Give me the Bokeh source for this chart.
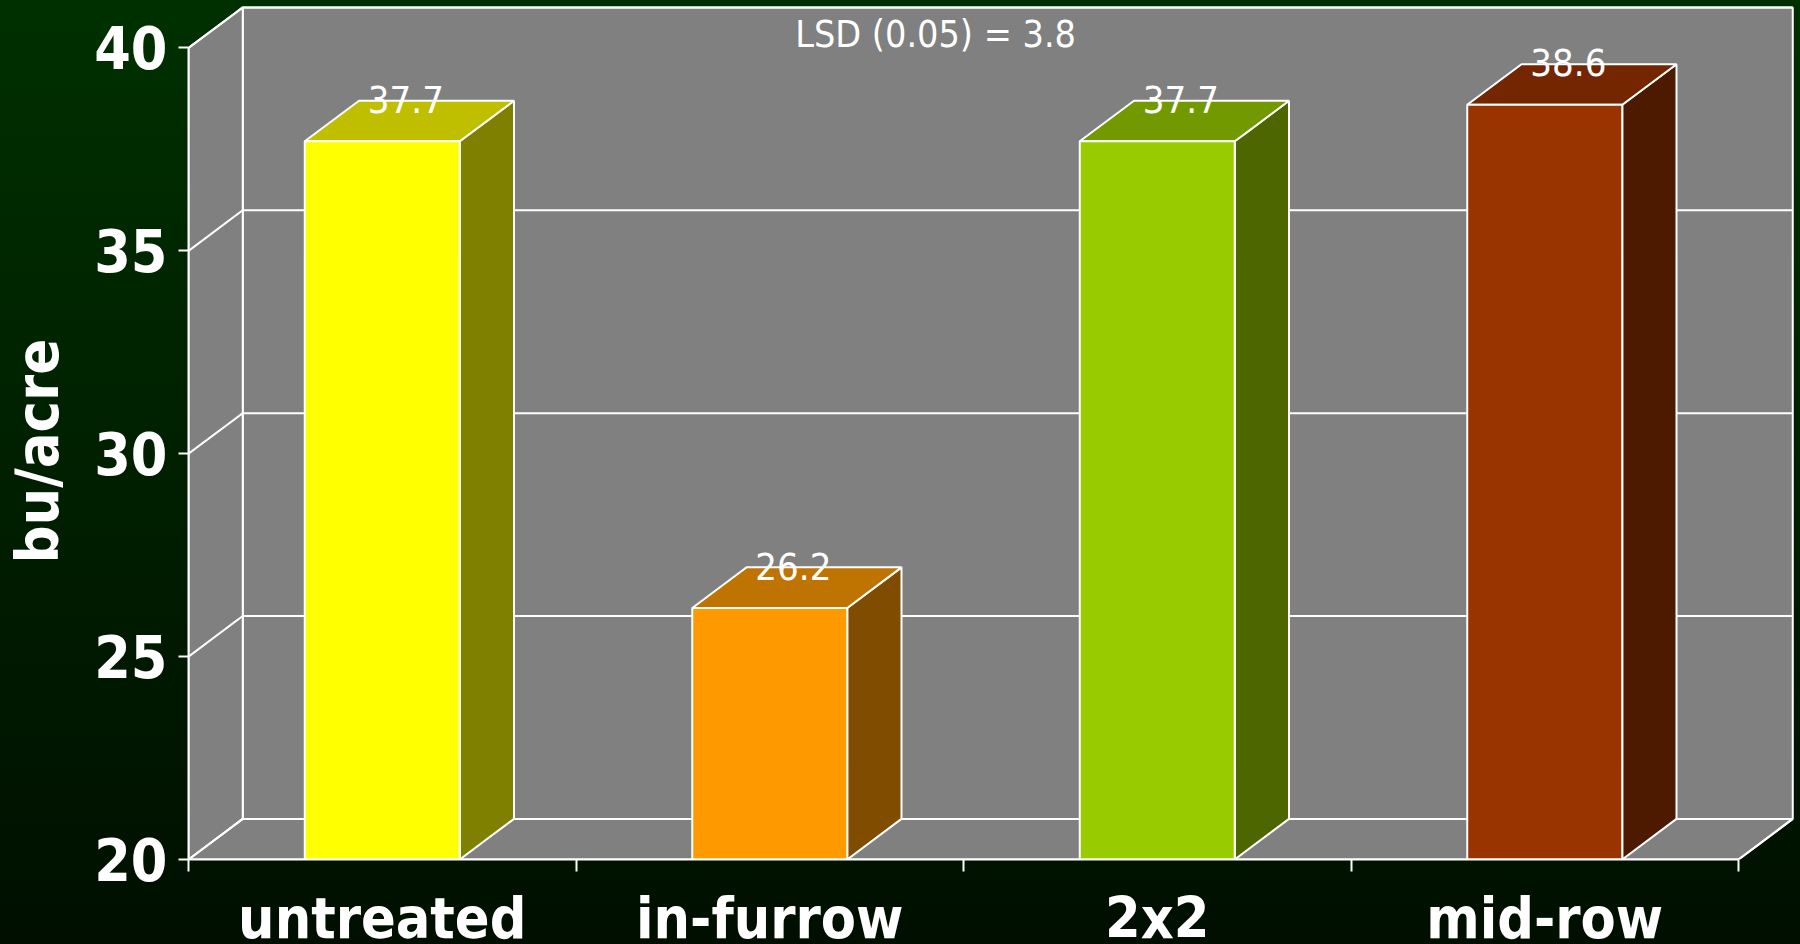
from bokeh.core.properties import value
from bokeh.embed import file_html
from bokeh.models import FixedTicker, Title
from bokeh.plotting import figure
from bokeh.resources import INLINE

categories = ["untreated", "in-furrow", "2x2", "mid-row"]
yields = [37.7, 26.2, 37.7, 38.6]
front_colors = ["#FFFF00", "#FF9900", "#99CC00", "#993300"]
top_colors = ["#BFBF00", "#BF7300", "#739900", "#732600"]
side_colors = ["#808000", "#804D00", "#4D6600", "#4D1A00"]
y_ticks = [20, 25, 30, 35, 40]
note = "LSD (0.05) = 3.8"
y_title = "bu/acre"

FONT = "DejaVu Sans Condensed"
WHITE = "#FFFFFF"
BASE = y_ticks[0]
TOP = y_ticks[-1]
N = len(categories)
DX = 0.14   # depth of the 3-D box along x
DY = 1.0    # depth of the 3-D box along y
BAR = 0.4
centers = [i + 0.5 for i in range(N)]

p = figure(
    width=1821, height=954,
    x_range=(0, 4.16), y_range=(20, 41.17),
    output_backend="svg", toolbar_location=None,
    min_border_left=209, min_border_right=0, min_border_top=0, min_border_bottom=95,
    outline_line_color=None,
    background_fill_color=None, border_fill_color=None,
)
p.styles = {
    "position": "fixed", "left": "-21px", "top": "0",
    "background": "linear-gradient(180deg, #003000 0%, #000F00 98.9%)",
}
p.grid.visible = False

# walls and floor
p.patches(
    xs=[[DX, N + DX, N + DX, DX], [0, DX, DX, 0], [0, N, N + DX, DX]],
    ys=[[BASE + DY, BASE + DY, TOP + DY, TOP + DY],
        [BASE, BASE + DY, TOP + DY, TOP],
        [BASE, BASE, BASE + DY, BASE + DY]],
    fill_color="#808080", line_color=WHITE, line_width=2,
)
# grid lines
p.multi_line(
    xs=[[0, DX, N + DX] for _ in y_ticks],
    ys=[[v, v + DY, v + DY] for v in y_ticks],
    line_color=WHITE, line_width=2,
)
p.segment(x0=[N], y0=[BASE], x1=[N + DX], y1=[BASE + DY], line_color=WHITE, line_width=2)

# bars
left = [c - BAR / 2 for c in centers]
right = [c + BAR / 2 for c in centers]
p.patches(
    xs=[[r, r + DX, r + DX, r] for r in right],
    ys=[[BASE, BASE + DY, v + DY, v] for v in yields],
    fill_color=side_colors, line_color=WHITE, line_width=2,
)
p.patches(
    xs=[[l, r, r + DX, l + DX] for l, r in zip(left, right)],
    ys=[[v, v, v + DY, v + DY] for v in yields],
    fill_color=top_colors, line_color=WHITE, line_width=2,
)
p.quad(left=left, right=right, bottom=BASE, top=yields,
       fill_color=front_colors, line_color=WHITE, line_width=2)

# value labels and note
p.text(
    x=[c + DX / 2 - 0.009 for c in centers], y=[v + DY + 0.03 for v in yields],
    text=[f"{v}" for v in yields],
    text_font=value(FONT), text_font_size="38px", text_color=WHITE,
    text_align="center", text_baseline="middle",
)
p.text(
    x=[1.928], y=[40.34], text=[note],
    text_font=value(FONT), text_font_size="37.4px", text_color=WHITE,
    text_align="center", text_baseline="middle",
)

# value-axis title
p.add_layout(Title(
    text=y_title, align="left", offset=296, standoff=40,
    text_font=FONT, text_font_size="59px", text_font_style="bold",
    text_color=WHITE,
), "left")

# axes
ya = p.yaxis[0]
ya.bounds = (BASE, TOP)
ya.ticker = FixedTicker(ticks=y_ticks)
ya.major_label_text_font = FONT
ya.major_label_text_font_size = "58.5px"
ya.major_label_text_font_style = "bold"
ya.major_label_text_color = WHITE
ya.major_label_standoff = 11
ya.major_tick_in = 0
ya.major_tick_out = 10
ya.minor_tick_in = 0
ya.minor_tick_out = 0
ya.axis_line_color = WHITE
ya.axis_line_width = 2
ya.major_tick_line_color = WHITE
ya.major_tick_line_width = 2

xa = p.xaxis[0]
xa.bounds = (0, N)
xa.ticker = FixedTicker(ticks=centers, minor_ticks=list(range(N + 1)))
xa.major_label_overrides = dict(zip(centers, categories))
xa.major_label_text_font = FONT
xa.major_label_text_font_size = "57px"
xa.major_label_text_font_style = "bold"
xa.major_label_text_color = WHITE
xa.major_label_standoff = 13
xa.major_tick_in = 0
xa.major_tick_out = 0
xa.minor_tick_in = 0
xa.minor_tick_out = 12
xa.axis_line_color = WHITE
xa.axis_line_width = 2
xa.minor_tick_line_color = WHITE
xa.minor_tick_line_width = 2

open("out.html", "w").write(file_html(p, INLINE))
